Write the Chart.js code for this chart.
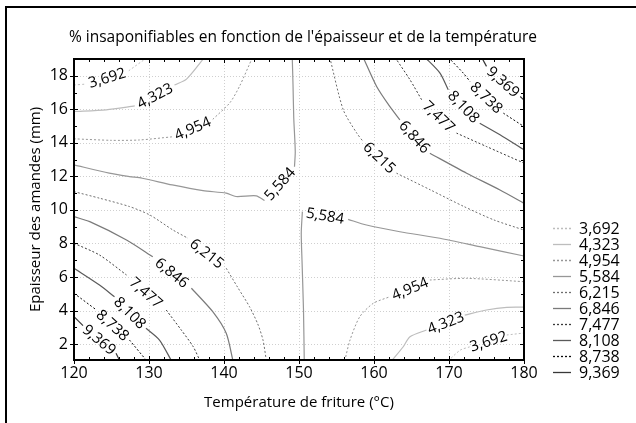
<!DOCTYPE html>
<html><head><meta charset="utf-8">
<script src="https://cdn.jsdelivr.net/npm/chart.js@4.4.0/dist/chart.umd.min.js"></script>
<style>html,body{margin:0;padding:0;background:#fff}canvas{display:block}</style>
</head><body>
<canvas id="c" width="636" height="423"></canvas>
<script>
// ---------- DATA ----------
const titleText = "% insaponifiables en fonction de l'épaisseur et de la température";
const xAxisTitle = "Température de friture (°C)";
const yAxisTitle = "Epaisseur des amandes (mm)";
const xTicks = [120, 130, 140, 150, 160, 170, 180];
const yTicks = [2, 4, 6, 8, 10, 12, 14, 16, 18];
const levelLabels = ['3,692', '4,323', '4,954', '5,584', '6,215', '6,846', '7,477', '8,108', '8,738', '9,369'];

// contour paths as [temperature °C, thickness mm]; null = break where the level label is written
const c3692_upper = [[120, 17.45], [121.5, 17.5], null, [127.3, 18.3], [129.8, 19.1]];
const c3692_lower = [[169.9, 1.0], [171.5, 1.64], [172.8, 1.84], null, [177.7, 2.54], [180, 2.66]];
const c4323_upper = [[120, 15.87], [124.3, 15.97], [128.1, 16.2], null, [133.4, 17.45], [135, 17.8], [137.4, 19.1]];
const c4323_lower = [[162.35, 1.0], [163.9, 1.84], [164.8, 2.44], [167.0, 2.84], null, [172.1, 3.73], [175.0, 4.03], [177.7, 4.19], [180, 4.2]];
const c4954_upper = [[120, 14.24], [125, 14.15], [128.7, 14.17], [133.1, 14.36], null, [138.5, 15.4], [140.8, 16.4], [142.1, 17.4], [143.8, 19.1]];
const c4954_lower = [[156.1, 1.0], [156.8, 2.24], [158.1, 3.63], [159.9, 4.43], [162.1, 4.82], null, [167.45, 5.82], [172.35, 5.92], [180, 5.72]];
const c5584_upper = [[120, 12.69], [124.7, 12.19], [127.4, 11.99], [129.1, 11.89], [133.1, 11.49], [137.2, 11.15], [140.3, 11.0], [141.6, 10.8], [144.3, 10.84], [145.4, 10.56], null, [149.4, 12.58], [149.5, 13.5], [149.3, 15.5], [149.2, 17.5], [149.1, 19.1]];
const c5584_lower = [[150.7, 1.0], [150.6, 4.0], [150.4, 7.0], [150.3, 8.6], [150.45, 9.9], null, [156.55, 9.44], [159.0, 9.1], [163.45, 8.7], [168.8, 8.31], [174.1, 7.81], [180, 7.25]];
const c6215_lower = [[120, 11.09], [123.4, 10.7], [127.4, 10.2], [130.1, 9.7], [133.2, 8.8], [135.2, 8.31], null, [140.3, 6.52], [141.8, 5.4], [143.4, 4.23], [144.5, 3.2], [145.2, 2.24], [145.65, 1.0]];
const c6215_upper = [[154.1, 19.1], [155.9, 15.97], [157.7, 14.58], [158.55, 14.08], null, [163.0, 12.19], [167.5, 11.2], [172.0, 10.2], [176.0, 9.4], [180, 8.8]];
const c6846_lower = [[120, 9.6], [122.1, 9.3], [127.0, 8.21], [130.5, 7.21], null, [135.65, 5.33], [138.5, 3.93], [140.3, 2.64], [141.2, 1.0]];
const c6846_upper = [[158.55, 19.1], [160.35, 17.36], [162.1, 16.17], [163.45, 15.37], null, [167.45, 13.38], [172.35, 12.19], [176.8, 11.19], [180, 10.4]];
const c7477_lower = [[120, 8.01], [123.4, 7.31], [127.0, 6.12], null, [132.3, 4.03], [134.3, 2.84], [135.9, 1.84], [136.8, 1.0]];
const c7477_upper = [[162.8, 19.1], [164.8, 17.76], [166.35, 16.57], null, [171.0, 14.58], [175.0, 13.78], [180, 12.79]];
const c8108_lower = [[120, 6.52], [123.4, 5.52], [125.4, 4.82], null, [129.6, 2.94], [131.4, 2.24], [133.0, 1.0]];
const c8108_upper = [[166.8, 19.1], [168.8, 18.16], [169.9, 17.16], null, [174.1, 15.17], [176.8, 14.48], [180, 13.58]];
const c8738_lower = [[120, 5.03], [123.0, 4.03], null, [127.4, 2.24], [129.7, 1.0]];
const c8738_upper = [[169.9, 19.1], [171.9, 18.16], [172.8, 17.66], null, [177.25, 15.77], [180, 14.97]];
const c9369_lower = [[120, 3.63], [121.2, 3.1], null, [125.6, 1.45], [126.1, 1.0]];
const c9369_upper = [[174.35, 19.1], [175.0, 18.56], null, [179.5, 16.76], [180, 16.55]];

// level index -> paths
const contourPaths = [
  [0, c3692_upper], [0, c3692_lower],
  [1, c4323_upper], [1, c4323_lower],
  [2, c4954_upper], [2, c4954_lower],
  [3, c5584_upper], [3, c5584_lower],
  [4, c6215_lower], [4, c6215_upper],
  [5, c6846_lower], [5, c6846_upper],
  [6, c7477_lower], [6, c7477_upper],
  [7, c8108_lower], [7, c8108_upper],
  [8, c8738_lower], [8, c8738_upper],
  [9, c9369_lower], [9, c9369_upper]
];

// ---------- STYLE ----------
const FONT = "'Open Sans', 'DejaVu Sans', sans-serif";
const levelStyles = [
  { color: '#bdbdbd', dash: [2, 2] },
  { color: '#bdbdbd', dash: [] },
  { color: '#979797', dash: [2, 2] },
  { color: '#979797', dash: [] },
  { color: '#6e6e6e', dash: [2, 2] },
  { color: '#7a7a7a', dash: [] },
  { color: '#3a3a3a', dash: [2, 2] },
  { color: '#5a5a5a', dash: [] },
  { color: '#0a0a0a', dash: [2, 2] },
  { color: '#383838', dash: [] }
];

const datasets = contourPaths.map(([lvl, path]) => {
  const pts = [];
  let lastX = null;
  path.forEach(p => {
    if (p === null) pts.push({ x: lastX, y: null });
    else { pts.push({ x: p[0], y: p[1] }); lastX = p[0]; }
  });
  return {
    label: levelLabels[lvl],
    data: pts,
    borderColor: levelStyles[lvl].color,
    borderDash: levelStyles[lvl].dash,
    borderWidth: levelStyles[lvl].dash.length ? 1 : 1.2,
    pointRadius: 0,
    tension: 0.25,
    spanGaps: false,
    fill: false,
    _lvl: lvl,
    _path: path
  };
});

const decor = {
  id: 'decor',
  beforeDatasetsDraw(chart) {
    const { ctx, chartArea: a, scales: { x, y } } = chart;
    ctx.save();
    ctx.strokeStyle = '#cfcfcf';
    ctx.lineWidth = 1;
    ctx.setLineDash([1, 2]);
    xTicks.forEach(v => {
      const px = Math.round(x.getPixelForValue(v)) + 0.5;
      ctx.beginPath(); ctx.moveTo(px, a.top); ctx.lineTo(px, a.bottom); ctx.stroke();
    });
    yTicks.forEach(v => {
      const py = Math.round(y.getPixelForValue(v)) + 0.5;
      ctx.beginPath(); ctx.moveTo(a.left, py); ctx.lineTo(a.right, py); ctx.stroke();
    });
    ctx.restore();
  },
  afterDatasetsDraw(chart) {
    const { ctx, chartArea: a, scales: { x, y } } = chart;
    // contour labels in the gaps
    ctx.save();
    ctx.fillStyle = '#000';
    ctx.font = '15px ' + FONT;
    ctx.textAlign = 'center';
    ctx.textBaseline = 'middle';
    chart.data.datasets.forEach(ds => {
      const path = ds._path;
      path.forEach((p, i) => {
        if (p !== null) return;
        const p0 = path[i - 1], p1 = path[i + 1];
        const x0 = x.getPixelForValue(p0[0]), y0 = y.getPixelForValue(p0[1]);
        const x1 = x.getPixelForValue(p1[0]), y1 = y.getPixelForValue(p1[1]);
        let ang = Math.atan2(y1 - y0, x1 - x0);
        if (ang > Math.PI / 2) ang -= Math.PI;
        if (ang < -Math.PI / 2) ang += Math.PI;
        ctx.save();
        ctx.translate((x0 + x1) / 2, (y0 + y1) / 2);
        ctx.rotate(ang);
        ctx.fillText(ds.label, 0, 1);
        ctx.restore();
      });
    });
    ctx.restore();

    // plot frame and ticks
    ctx.save();
    ctx.strokeStyle = '#000';
    ctx.setLineDash([]);
    ctx.lineWidth = 1;
    const L = a.left, R = a.right, T = a.top, B = a.bottom;
    for (let v = 120; v <= 180; v += 2) {
      const px = Math.round(x.getPixelForValue(v)) + 0.5;
      const major = xTicks.includes(v);
      const len = major ? 4 : 3;
      ctx.beginPath();
      ctx.moveTo(px, B - len); ctx.lineTo(px, B + (major ? 4 : 0));
      ctx.moveTo(px, T); ctx.lineTo(px, T + len);
      ctx.stroke();
    }
    for (let v = 2; v <= 18; v += 1) {
      const py = Math.round(y.getPixelForValue(v)) + 0.5;
      const major = yTicks.includes(v);
      const len = major ? 4 : 3;
      ctx.beginPath();
      ctx.moveTo(L - (major ? 4 : 0), py); ctx.lineTo(L + len, py);
      ctx.moveTo(R - len, py); ctx.lineTo(R, py);
      ctx.stroke();
    }
    ctx.lineWidth = 2;
    ctx.strokeRect(L, T, R - L, B - T);
    ctx.restore();
  },
  afterDraw(chart) {
    const { ctx, chartArea: a } = chart;
    ctx.save();
    // outer frame (top & left visible)
    ctx.strokeStyle = '#000';
    ctx.lineWidth = 2;
    ctx.beginPath();
    ctx.moveTo(6, 423); ctx.lineTo(6, 7); ctx.lineTo(636, 7);
    ctx.stroke();
    // title
    ctx.fillStyle = '#000';
    ctx.font = '15.5px ' + FONT;
    ctx.textAlign = 'center';
    ctx.textBaseline = 'middle';
    ctx.fillText(titleText, 303, 38);
    // legend
    const lx = a.right + 29;
    ctx.font = '16px ' + FONT;
    levelLabels.forEach((lab, i) => {
      const ly = a.bottom + 12 - (levelLabels.length - 1 - i) * 16;
      ctx.strokeStyle = levelStyles[i].color;
      ctx.setLineDash(levelStyles[i].dash);
      ctx.lineWidth = 1.3;
      ctx.beginPath(); ctx.moveTo(lx, ly + 0.5); ctx.lineTo(lx + 18, ly + 0.5); ctx.stroke();
      ctx.setLineDash([]);
      ctx.textAlign = 'left';
      ctx.fillText(lab, lx + 26, ly + 1);
    });
    ctx.restore();
  }
};

new Chart(document.getElementById('c'), {
  type: 'line',
  data: { datasets },
  options: {
    responsive: false,
    animation: false,
    events: [],
    layout: { padding: { left: 0, right: 112, top: 59, bottom: 0 } },
    plugins: { legend: { display: false }, title: { display: false }, tooltip: { enabled: false } },
    scales: {
      x: {
        type: 'linear', min: 120, max: 180,
        afterBuildTicks: s => { s.ticks = xTicks.map(v => ({ value: v })); },
        afterFit: s => { s.height = 63; },
        grid: { display: false, drawTicks: false },
        border: { display: false },
        ticks: { color: '#000', font: { family: FONT, size: 16 }, padding: 4, maxRotation: 0, autoSkip: false },
        title: { display: true, text: xAxisTitle, color: '#000', font: { family: FONT, size: 15 }, padding: { top: 0, bottom: 11 } }
      },
      y: {
        type: 'linear', min: 1.05, max: 19.0,
        afterBuildTicks: s => { s.ticks = yTicks.map(v => ({ value: v })); },
        afterFit: s => { s.width = 74; },
        grid: { display: false, drawTicks: false },
        border: { display: false },
        ticks: { color: '#000', font: { family: FONT, size: 16 }, padding: 6, autoSkip: false },
        title: { display: true, text: yAxisTitle, color: '#000', font: { family: FONT, size: 15 }, padding: { top: 27, bottom: 0 } }
      }
    }
  },
  plugins: [decor]
});
</script>
</body></html>
